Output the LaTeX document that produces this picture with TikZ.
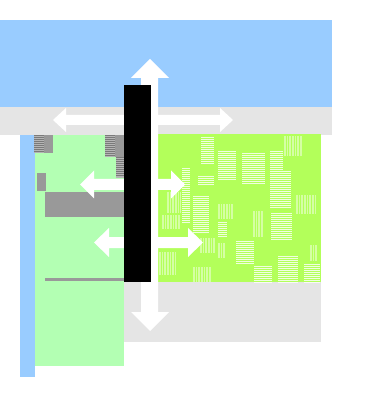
\documentclass[tikz,border=0pt]{standalone}
\usepackage{tikz}
\definecolor{skyblue}{HTML}{99CCFF}
\definecolor{bandgray}{HTML}{E5E5E5}
\definecolor{palegreen}{HTML}{B3FFB3}
\definecolor{limegreen}{HTML}{B3FF5A}
\definecolor{midgray}{HTML}{999999}
\definecolor{darkstripe}{HTML}{7A7A7A}
\definecolor{lightstripe}{HTML}{B5B5B5}
\tikzset{
  hline/.style={white, opacity=0.8, line width=0.7pt},
  vline/.style={white, opacity=0.45, line width=0.6pt},
  stripe/.style={darkstripe, line width=1pt},
  arrowfill/.style={fill=white}
}
\newcommand\hblock[4]{%
  \pgfmathtruncatemacro\nlines{(#4-#2)/2}%
  \foreach \i in {0,...,\nlines} \draw[hline] (#1,#2+2*\i) -- (#3,#2+2*\i);}
\newcommand\vblock[4]{%
  \pgfmathtruncatemacro\nlines{(#3-#1)/1.6}%
  \foreach \i in {0,...,\nlines} \draw[vline] (#1+1.6*\i,#2) -- (#1+1.6*\i,#4);}
\newcommand\sblock[4]{%
  \fill[lightstripe] (#1,#2) rectangle (#3,#4);
  \pgfmathtruncatemacro\nlines{(#4-#2)/2-1}%
  \foreach \i in {0,...,\nlines} \draw[stripe] (#1,#2+1+2*\i) -- (#3,#2+1+2*\i);}
\newcommand\dbarrow[6]{%
  \fill[arrowfill] (#1,#3) -- (#1+#4,#3-#5) -- (#1+#4,#3-#6) -- (#2-#4,#3-#6) -- (#2-#4,#3-#5) -- (#2,#3) -- (#2-#4,#3+#5) -- (#2-#4,#3+#6) -- (#1+#4,#3+#6) -- (#1+#4,#3+#5) -- cycle;}
\begin{document}
\begin{tikzpicture}[x=1pt,y=-1pt]
\useasboundingbox (0,0) rectangle (376,419);
\fill[white] (0,0) rectangle (376,419);
% top blue bar and grey band
\fill[skyblue] (0,20) rectangle (332,107);
\fill[bandgray] (0,107) rectangle (332,135);
% lower grey region
\fill[bandgray] (124,281) rectangle (321,342);
% bright green panel
\fill[limegreen] (158,134) rectangle (321,282);
% pale green panel and blue strip
\fill[palegreen] (35,135) rectangle (124,366);
\fill[skyblue] (20,135) rectangle (35,377);
% grey pieces on pale green panel
\sblock{34}{135}{44}{153}
\fill[midgray] (44,135) rectangle (53,153);
\sblock{105}{135}{115}{157}
\fill[midgray] (115,135) rectangle (124,157);
\sblock{116}{157}{124}{178}
\fill[midgray] (37,173) rectangle (46,191);
\fill[midgray] (45,192) rectangle (124,217);
\fill[midgray] (45,278) rectangle (124,281);
% hatched blocks on bright green
\hblock{201}{137}{214}{163}
\hblock{218}{151}{236}{179}
\hblock{242}{153}{265}{184}
\hblock{270}{151}{283}{170}
\vblock{284}{136}{302}{156}
\hblock{270}{171}{291}{208}
\hblock{198}{176}{214}{185}
\hblock{182}{168}{190}{222}
\hblock{193}{196}{209}{232}
\vblock{167}{192}{180}{213}
\vblock{162}{215}{180}{229}
\vblock{218}{204}{234}{219}
\hblock{218}{222}{227}{237}
\vblock{253}{211}{263}{237}
\hblock{271}{213}{292}{239}
\vblock{296}{195}{316}{214}
\vblock{200}{238}{215}{253}
\vblock{218}{243}{226}{258}
\hblock{236}{241}{254}{263}
\vblock{159}{252}{176}{275}
\vblock{193}{267}{211}{282}
\hblock{254}{266}{272}{282}
\hblock{278}{256}{298}{282}
\hblock{304}{264}{320}{282}
\vblock{310}{245}{318}{261}
% white double arrows
\fill[arrowfill] (141,78) -- (131,78) -- (150,59) -- (169,78) -- (158,78) -- (158,312) -- (169,312) -- (150,331) -- (131,312) -- (141,312) -- cycle;
\dbarrow{53}{233}{120}{13}{12}{5}
\dbarrow{80}{185}{184.5}{14}{14}{5.5}
\dbarrow{94}{203}{242.5}{15}{14.5}{5.5}
% black bar
\fill[black] (124,85) rectangle (151,282);
\end{tikzpicture}
\end{document}
